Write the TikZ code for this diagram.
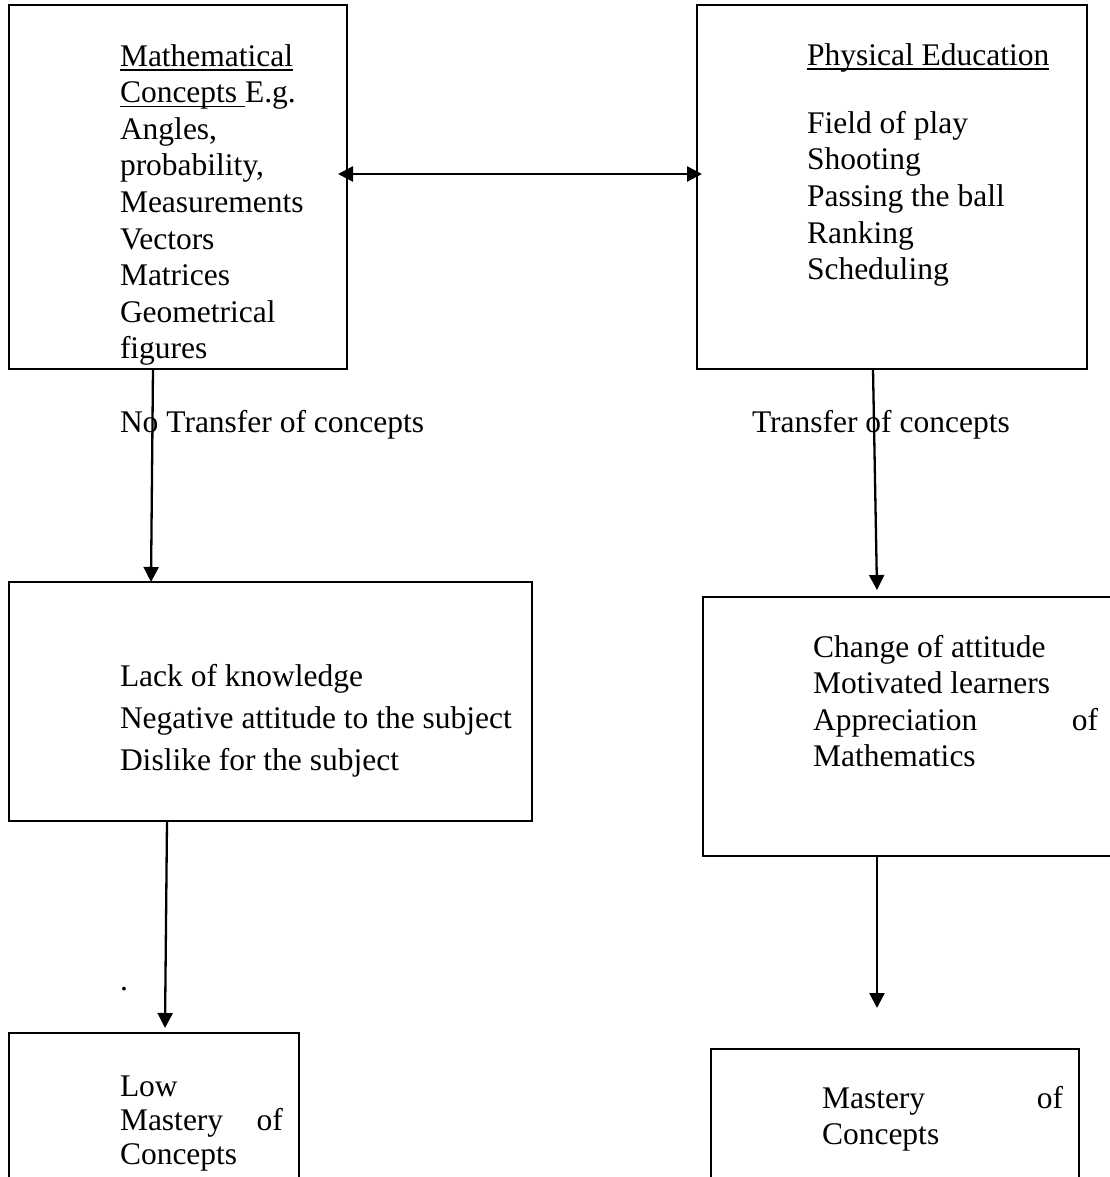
\documentclass[tikz,border=0pt]{standalone}
\usepackage{fontspec}
\setmainfont{Liberation Serif}
\usetikzlibrary{arrows.meta}
\newcommand\myul[1]{\setbox0=\hbox{#1}\rlap{\rule[-4.5pt]{\wd0}{1.5pt}}\box0}
\begin{document}
\begin{tikzpicture}[x=1pt,y=-1pt,
  box/.style={draw, line width=2.6pt, rectangle, inner sep=0pt, outer sep=0pt, anchor=north west},
  txt/.style={anchor=north west, inner sep=0pt, outer sep=0pt, align=left, font=\fontsize{31.5}{36.6}\selectfont},
  lbl/.style={anchor=base west, inner sep=0pt, outer sep=0pt, font=\fontsize{31.5}{36.6}\selectfont},
  arr/.style={line width=2.3pt, -{Triangle[length=15pt,width=15pt]}},
  dbl/.style={line width=2.3pt, {Triangle[length=15pt,width=15pt]}-{Triangle[length=15pt,width=15pt]}}]
\useasboundingbox (0,0) rectangle (1109,1177);
% boxes
\node[box, minimum width=338pt, minimum height=364pt] (b1) at (9,5) {};
\node[box, minimum width=390pt, minimum height=364pt] (b2) at (697,5) {};
\node[box, minimum width=523pt, minimum height=239pt] (b3) at (9,582) {};
\node[box, minimum width=420pt, minimum height=259pt] (b4) at (703,597) {};
\node[box, minimum width=290pt, minimum height=200pt] (b5) at (9,1033) {};
\node[box, minimum width=368pt, minimum height=200pt] (b6) at (711,1049) {};
% texts
\node[txt] (t1) at (120,40.4) {\strut\myul{Mathematical}\\ \myul{Concepts\ }E.g.\\ Angles,\\ probability,\\ Measurements\\ Vectors\\ Matrices\\ Geometrical\\ figures};
\node[txt] (t2) at (807,39.4) {\strut\myul{Physical Education}\\[31.7pt] Field of play\\ Shooting\\ Passing the ball\\ Ranking\\ Scheduling};
\node[txt, font=\fontsize{31.5}{42}\selectfont] (t3) at (120,656.6) {\strut Lack of knowledge\\ Negative attitude to the subject\\ Dislike for the subject};
\node[txt] (t4) at (813,631.4) {\strut Change of attitude\\ Motivated learners\\ \makebox[285pt][l]{Appreciation\hfill of}\\ Mathematics};
\node[txt, font=\fontsize{31.5}{34}\selectfont] (t5) at (120,1072.2) {\strut Low\\ \makebox[163pt][l]{Mastery\hfill of}\\ Concepts};
\node[txt] (t6) at (822,1082.4) {\strut\makebox[241pt][l]{Mastery\hfill of}\\ Concepts};
\node[lbl] (l1) at (120,432) {No Transfer of concepts};
\node[lbl] (l2) at (752,432) {Transfer of concepts};
\node[lbl] (dot) at (120,990) {.};
% connectors
\draw[dbl] ([shift={(-9,169)}]b1.north east) -- ([shift={(5,169)}]b2.north west);
\draw[arr] ([xshift=144pt]b1.south west) -- ([xshift=142pt]b3.north west);
\draw[arr] ([xshift=176pt]b2.south west) -- ([shift={(174,-7)}]b4.north west);
\draw[arr] ([xshift=158pt]b3.south west) -- ([shift={(156,-5)}]b5.north west);
\draw[arr] ([xshift=174pt]b4.south west) -- ([shift={(166,-41)}]b6.north west);
\end{tikzpicture}
\end{document}
